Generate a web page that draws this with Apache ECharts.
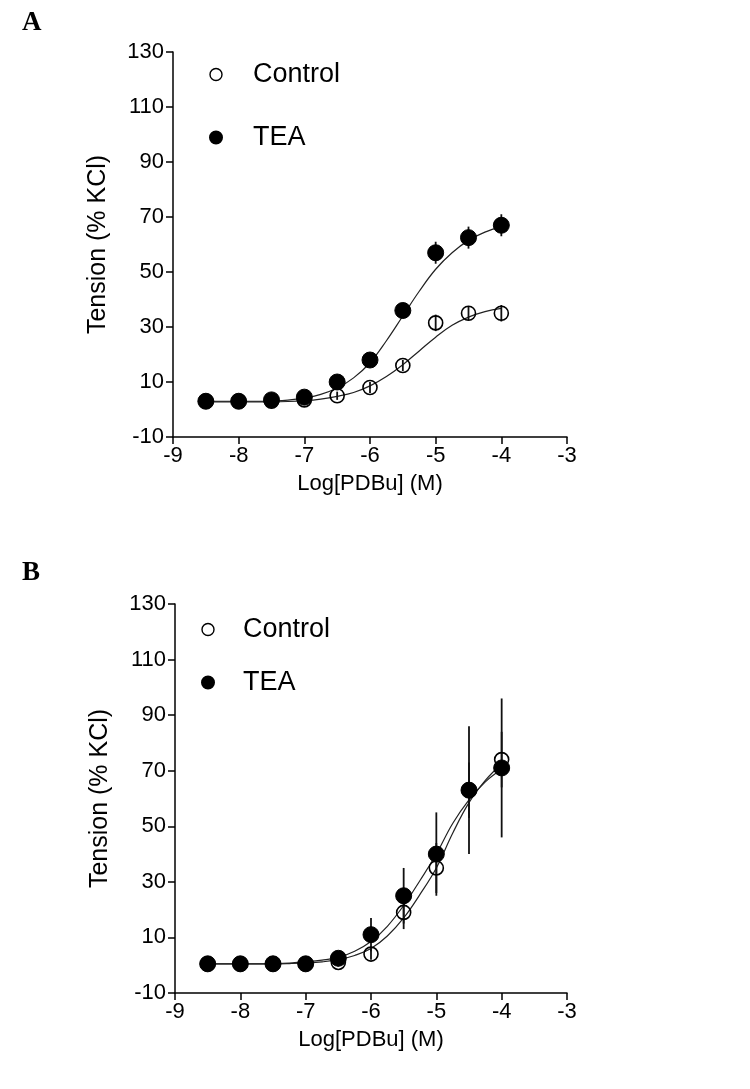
<!DOCTYPE html>
<html>
<head>
<meta charset="utf-8">
<script src="https://cdn.jsdelivr.net/npm/echarts@6/dist/echarts.min.js"></script>
<style>
html,body{margin:0;padding:0;background:#fff;}
#chart{width:750px;height:1089px;}
</style>
</head>
<body>
<div id="chart"></div>
<script>
// ---- data ----
const doses = [-8.5, -8, -7.5, -7, -6.5, -6, -5.5, -5, -4.5, -4];
const xTicks = [-9, -8, -7, -6, -5, -4, -3];
const yTicks = [-10, 10, 30, 50, 70, 90, 110, 130];

// Panel A
const aControl    = [3, 3, 3, 3.5, 5, 8, 16, 31.5, 35, 35];
const aControlErr = [1, 1, 1, 1.5, 1.5, 2, 2, 3, 2.5, 3];
const aTEA        = [3, 3, 3.5, 4.5, 10, 18, 36, 57, 62.5, 67];
const aTEAErr     = [1, 1, 1, 1.5, 1.5, 2, 2, 4, 4, 4];

// Panel B
const bControl    = [0.5, 0.5, 0.5, 0.5, 1, 4, 19, 35, 63, 74];
const bControlErr = [1, 1, 1, 1, 1.5, 2, 6, 9, 10, 10];
const bTEA        = [0.5, 0.5, 0.5, 0.5, 2.5, 11, 25, 40, 63, 71];
const bTEAErr     = [1, 1, 1, 1, 1.5, 6, 10, 15, 23, 25];

// Fitted curves
const curveX = [-8.5, -8.25, -8, -7.75, -7.5, -7.25, -7, -6.75, -6.5, -6.25, -6, -5.75, -5.5, -5.25, -5, -4.75, -4.5, -4.25, -4];
const aControlFit = [2.8, 2.8, 2.8, 2.8, 2.8, 2.9, 3.2, 3.8, 4.8, 6.2, 8.6, 12, 16.3, 21.3, 26.3, 30.6, 33.6, 35.6, 36.8];
const aTEAFit     = [3, 3, 3, 3, 3.1, 3.4, 4.2, 5.5, 7.8, 11.5, 17, 25, 34, 43, 51, 57, 61.5, 64.5, 66.5];
const bControlFit = [0.5, 0.5, 0.5, 0.5, 0.5, 0.6, 0.8, 1.2, 2, 3.5, 6, 10.5, 17, 25.5, 35, 47.5, 58.5, 66.5, 72.5];
const bTEAFit     = [0.5, 0.5, 0.5, 0.5, 0.6, 0.8, 1.2, 1.8, 2.8, 5, 8.5, 14, 21.5, 30.5, 40, 51, 59.5, 66, 70.5];

// ---- helpers ----
const FONT = 'Liberation Sans, Arial, sans-serif';
const zip = (xs, ys) => xs.map((x, i) => [x, ys[i]]);
const errData = (ys, es) => doses.map((x, i) => [x, ys[i] - es[i], ys[i] + es[i]]);

function xAxis(gi) {
  return {
    type: 'value', gridIndex: gi, min: -9, max: -3, interval: 1,
    name: 'Log[PDBu] (M)', nameLocation: 'middle', nameGap: 36,
    nameTextStyle: { fontFamily: FONT, fontSize: 22, color: '#000' },
    axisLine: { onZero: false, lineStyle: { color: '#000', width: 1.5 } },
    axisTick: { show: true, length: 7, lineStyle: { color: '#000', width: 1.5 } },
    axisLabel: { fontFamily: FONT, fontSize: 22, color: '#000', margin: 8 },
    splitLine: { show: false }
  };
}
function yAxis(gi) {
  return {
    type: 'value', gridIndex: gi, min: -10, max: 130,
    name: 'Tension (% KCl)', nameLocation: 'middle', nameGap: 62, nameRotate: 90,
    nameTextStyle: { fontFamily: FONT, fontSize: 25, color: '#000' },
    axisLine: { show: true, onZero: false, lineStyle: { color: '#000', width: 1.5 } },
    axisTick: { show: true, length: 7, customValues: yTicks, lineStyle: { color: '#000', width: 1.5 } },
    axisLabel: { fontFamily: FONT, fontSize: 22, color: '#000', margin: 9, customValues: yTicks },
    splitLine: { show: false }
  };
}
function curve(name, gi, ys) {
  return {
    name: name + ' fit', type: 'line', xAxisIndex: gi, yAxisIndex: gi,
    data: zip(curveX, ys), smooth: 0.4, showSymbol: false, symbol: 'none',
    lineStyle: { color: '#222', width: 1.2 }, z: 2, silent: true
  };
}
function errBars(gi, ys, es) {
  return {
    type: 'custom', xAxisIndex: gi, yAxisIndex: gi, z: 3, silent: true,
    data: errData(ys, es),
    renderItem: function (params, api) {
      const x = api.value(0);
      const p1 = api.coord([x, api.value(1)]);
      const p2 = api.coord([x, api.value(2)]);
      return { type: 'line', shape: { x1: p1[0], y1: p1[1], x2: p2[0], y2: p2[1] },
               style: { stroke: '#111', lineWidth: 1.8 } };
    }
  };
}
function points(name, gi, ys, filled) {
  return {
    name: name, type: 'scatter', xAxisIndex: gi, yAxisIndex: gi, z: 4,
    data: zip(doses, ys), symbol: 'circle', symbolSize: filled ? 16 : 14,
    itemStyle: filled ? { color: '#000', borderColor: '#000', borderWidth: 1, opacity: 1 }
                      : { color: 'rgba(255,255,255,0)', borderColor: '#000', borderWidth: 1.6, opacity: 1 }
  };
}
function legend(top, left, gap, pad) {
  return {
    orient: 'vertical', top: top, left: left, itemGap: gap,
    itemWidth: 12, itemHeight: 12, icon: 'circle',
    data: [
      { name: 'Control', itemStyle: { color: '#fff', borderColor: '#000', borderWidth: 1.4, opacity: 1 } },
      { name: 'TEA', itemStyle: { color: '#000', borderColor: '#000', opacity: 1 } }
    ],
    textStyle: { fontFamily: FONT, fontSize: 27, color: '#000', padding: [0, 0, 0, pad] },
    selectedMode: false
  };
}

const chart = echarts.init(document.getElementById('chart'), null, { renderer: 'canvas' });
chart.setOption({
  backgroundColor: '#fff',
  animation: false,
  title: [
    { text: 'A', left: 17, top: 5, textStyle: { fontFamily: 'Liberation Serif, serif', fontWeight: 'bold', fontSize: 27, color: '#000' } },
    { text: 'B', left: 17, top: 555, textStyle: { fontFamily: 'Liberation Serif, serif', fontWeight: 'bold', fontSize: 27, color: '#000' } }
  ],
  legend: [legend(56, 204, 36, 26), legend(611, 196, 26, 24)],
  grid: [
    { left: 173, right: 183, top: 52, height: 385 },
    { left: 175, right: 183, top: 604, height: 389 }
  ],
  xAxis: [xAxis(0), xAxis(1)],
  yAxis: [yAxis(0), yAxis(1)],
  series: [
    curve('Control', 0, aControlFit), curve('TEA', 0, aTEAFit),
    errBars(0, aControl, aControlErr), errBars(0, aTEA, aTEAErr),
    points('Control', 0, aControl, false), points('TEA', 0, aTEA, true),
    curve('Control', 1, bControlFit), curve('TEA', 1, bTEAFit),
    errBars(1, bControl, bControlErr), errBars(1, bTEA, bTEAErr),
    points('Control', 1, bControl, false), points('TEA', 1, bTEA, true)
  ]
});
</script>
</body>
</html>
